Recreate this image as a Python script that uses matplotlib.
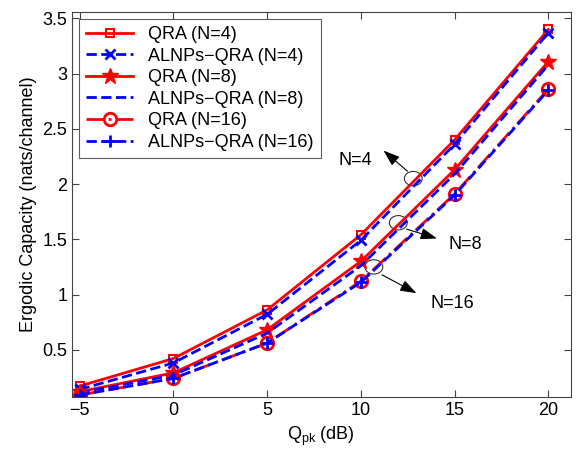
import numpy as np
import matplotlib
matplotlib.use('Agg')
import matplotlib.pyplot as plt
from matplotlib.patches import Ellipse

plt.rcParams['font.family'] = ['Liberation Sans', 'DejaVu Sans']

# data
qpk = [-5, 0, 5, 10, 15, 20]
qra_4 = [0.17, 0.42, 0.86, 1.54, 2.40, 3.40]
alnps_4 = [0.14, 0.38, 0.82, 1.49, 2.36, 3.37]
qra_8 = [0.12, 0.29, 0.68, 1.30, 2.13, 3.11]
alnps_8 = [0.11, 0.27, 0.65, 1.26, 2.09, 3.08]
qra_16 = [0.09, 0.24, 0.56, 1.12, 1.91, 2.86]
alnps_16 = [0.09, 0.24, 0.56, 1.11, 1.90, 2.85]

fig = plt.figure(figsize=(5.76, 4.55), dpi=100)
ax = fig.add_axes([0.125, 0.127, 0.866, 0.847])

ax.plot(qpk, qra_4, color='red', lw=2, marker='s', ms=6, mfc='none', mew=1.5, label='QRA (N=4)')
ax.plot(qpk, alnps_4, color='blue', lw=2, ls='--', marker='x', ms=7, mew=2, label='ALNPs\u2212QRA (N=4)')
ax.plot(qpk, qra_8, color='red', lw=2, marker='*', ms=12, label='QRA (N=8)')
ax.plot(qpk, alnps_8, color='blue', lw=2, ls='--', label='ALNPs\u2212QRA (N=8)')
ax.plot(qpk, qra_16, color='red', lw=2, ls='-.', marker='o', ms=9, mfc='none', mew=2, label='QRA (N=16)')
ax.plot(qpk, alnps_16, color='blue', lw=2, ls='--', marker='+', ms=8, mew=2, label='ALNPs\u2212QRA (N=16)')

ax.set_xlim(-5.4, 21.2)
ax.set_ylim(0.07, 3.56)
ax.set_xticks([-5, 0, 5, 10, 15, 20])
ax.set_xticklabels(['\u22125', '0', '5', '10', '15', '20'])
ax.set_yticks([0.5, 1, 1.5, 2, 2.5, 3, 3.5])
ax.set_yticklabels(['0.5', '1', '1.5', '2', '2.5', '3', '3.5'])
ax.tick_params(direction='in', top=True, right=True, labelsize=13, length=5, color='#444444')
for s in ax.spines.values():
    s.set_color('#444444')

ax.set_xlabel('Q$_{\\mathregular{pk}}$ (dB)', fontsize=13)
ax.set_ylabel('Ergodic Capacity (nats/channel)', fontsize=13)

# ellipses and arrows
for (cx, cy) in [(12.8, 2.05), (12.0, 1.65), (10.7, 1.25)]:
    ax.add_patch(Ellipse((cx, cy), 0.95, 0.13, fill=False, lw=0.8, color='#333333'))

arrow = dict(arrowstyle='-|>,head_length=1.0,head_width=0.35', color='black', lw=0.8)
ax.annotate('', xy=(11.1, 2.32), xytext=(12.6, 2.1), arrowprops=arrow)
ax.annotate('', xy=(14.2, 1.5), xytext=(12.3, 1.6), arrowprops=arrow)
ax.annotate('', xy=(13.1, 1.0), xytext=(11.0, 1.19), arrowprops=arrow)
ax.text(9.7, 2.21, 'N=4', fontsize=13, ha='center', va='center')
ax.text(15.6, 1.45, 'N=8', fontsize=13, ha='center', va='center')
ax.text(14.9, 0.92, 'N=16', fontsize=13, ha='center', va='center')

leg = ax.legend(loc='upper left', fontsize=13, fancybox=False, edgecolor='#333333',
                handlelength=2.6, borderaxespad=0.4, labelspacing=0.25, borderpad=0.4)
leg.get_frame().set_linewidth(0.8)

fig.savefig('out.png', dpi=100)
